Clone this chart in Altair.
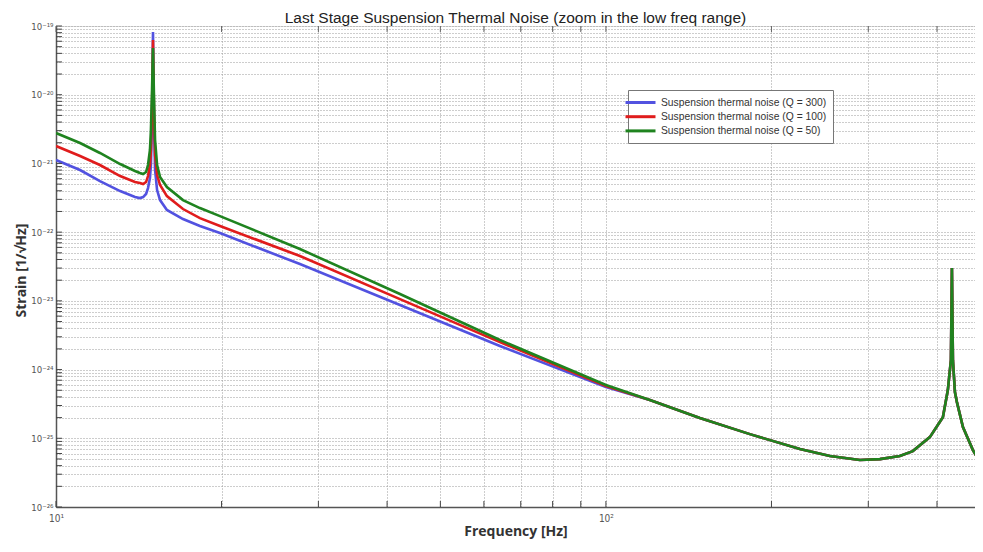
import altair as alt
import pandas as pd

series_names = [
    "Suspension thermal noise (Q = 300)",
    "Suspension thermal noise (Q = 100)",
    "Suspension thermal noise (Q = 50)",
]
series_colors = ["#5252e0", "#e01c1c", "#1f831f"]

# low-frequency part (Hz)
freq_low = [10.0, 11.06, 12.02, 13.08, 13.92, 14.21, 14.40, 14.58, 14.70, 14.82,
            14.88, 14.95, 15.01, 15.07, 15.14, 15.27, 15.46, 15.91, 17.02, 18.27,
            19.87, 27.77, 42.22, 64.16, 100.0]

strain_q300 = [1.12e-21, 8.02e-22, 5.54e-22, 3.96e-22, 3.24e-22, 3.13e-22, 3.24e-22, 3.59e-22, 4.38e-22, 6.13e-22,
               9.48e-22, 4.28e-21, 8.18e-20, 4.28e-21, 8.02e-22, 4.10e-22, 2.93e-22, 2.10e-22, 1.55e-22, 1.23e-22,
               9.70e-23, 3.43e-23, 8.69e-24, 2.20e-24, 5.56e-25]
strain_q100 = [1.79e-21, 1.28e-21, 9.48e-22, 6.55e-22, 5.36e-22, 5.18e-22, 5.01e-22, 5.36e-22, 6.55e-22, 9.48e-22,
               1.57e-21, 5.99e-21, 6.25e-20, 5.99e-21, 1.33e-21, 6.78e-22, 4.85e-22, 3.35e-22, 2.17e-22, 1.60e-22,
               1.23e-22, 4.49e-23, 1.06e-23, 2.51e-24, 5.75e-25]
strain_q50 = [2.77e-21, 1.98e-21, 1.42e-21, 9.80e-22, 7.75e-22, 7.25e-22, 7.01e-22, 7.49e-22, 9.48e-22, 1.57e-21,
              3.06e-21, 1.17e-20, 4.78e-20, 9.90e-21, 2.19e-21, 9.48e-22, 6.34e-22, 4.53e-22, 2.93e-22, 2.24e-22,
              1.71e-22, 5.68e-23, 1.26e-23, 2.69e-24, 5.95e-25]

# high-frequency part, common to all three curves
freq_high = [120.2, 148.2, 182.7, 225.3, 255.5, 289.6, 315.0, 342.4, 361.5, 388.2,
             410.0, 418.6, 424.0, 425.8, 427.6, 431.2, 434.8, 445.9, 464.9, 484.9]
strain_high = [3.60e-25, 1.97e-25, 1.15e-25, 6.97e-26, 5.51e-26, 4.82e-26, 4.98e-26, 5.51e-26, 6.51e-26, 1.04e-25,
               2.03e-25, 5.03e-25, 1.37e-24, 3.00e-23, 1.37e-24, 4.71e-25, 3.36e-25, 1.46e-25, 6.73e-26, 3.81e-26]

# axis ticks / grid
x_grid = [10, 20, 30, 40, 50, 60, 70, 80, 90, 100, 200, 300, 400]
x_label_values = [10, 100]
x_label_texts = ["10\u00b9", "10\u00b2"]
y_decades = [-26, -25, -24, -23, -22, -21, -20, -19]
y_label_texts = ["10\u207b\u00b2\u2076", "10\u207b\u00b2\u2075", "10\u207b\u00b2\u2074", "10\u207b\u00b2\u00b3",
                 "10\u207b\u00b2\u00b2", "10\u207b\u00b2\u00b9", "10\u207b\u00b2\u2070", "10\u207b\u00b9\u2079"]
y_grid = [float(f"{k}e{e}") for e in y_decades[:-1] for k in range(1, 10)] + [1e-19]
y_label_values = [float(f"1e{e}") for e in y_decades]

rows = []
for name, low in zip(series_names, [strain_q300, strain_q100, strain_q50]):
    for f, s in zip(freq_low + freq_high, low + strain_high):
        rows.append({"series": name, "freq": f, "strain": s})
df = pd.DataFrame(rows)

W, H = 919, 481
xscale = alt.Scale(type="log", domain=[10, 469], nice=False)
yscale = alt.Scale(type="log", domain=[1e-26, 1e-19], nice=False)
colscale = alt.Scale(domain=series_names, range=series_colors)

x_expr = " : ".join(f"datum.value == {v} ? '{t}'" for v, t in zip(x_label_values, x_label_texts)) + " : ''"
y_expr = " : ".join(f"datum.value == {v!r} ? '{t}'" for v, t in zip(y_label_values, y_label_texts)) + " : ''"

xaxis = alt.Axis(values=x_grid, labelExpr=x_expr, title="Frequency [Hz]", ticks=False,
                 grid=True, gridDash=[1, 2], gridColor="#9a9a9a", labelFlush=False,
                 labelFont="DejaVu Sans Condensed", labelFontSize=10, labelColor="#555", labelPadding=6,
                 titleFont="Open Sans", titleFontSize=14, titleFontWeight="bold", titleColor="#333",
                 titlePadding=1, domainColor="#555", domainWidth=1.5)
yaxis = alt.Axis(values=y_grid, labelExpr=y_expr, title="Strain [1/\u221aHz]", ticks=False,
                 grid=True, gridDash=[1, 2], gridColor="#9a9a9a",
                 labelFont="DejaVu Sans Condensed", labelFontSize=9.5, labelColor="#555", labelPadding=3,
                 titleFont="Open Sans", titleFontSize=14, titleFontWeight="bold", titleColor="#333",
                 titleX=-28, titleY=244, titleAlign="center", titleBaseline="bottom", titleAngle=-90,
                 domainColor="#555", domainWidth=1.5)

legend = alt.Legend(title=None, orient="none", legendX=572, legendY=64, fillColor="white",
                    strokeColor="#777", padding=6, symbolType="M-3,0H3", symbolSize=100,
                    symbolStrokeWidth=3, labelFont="Liberation Sans", labelFontSize=10.3,
                    labelColor="#333", rowPadding=1.2, labelOffset=14, labelLimit=400,
                    offset=0)

xt = pd.DataFrame({"v": x_grid})
yt = pd.DataFrame({"v": y_grid})

layers = []
for name in series_names:
    layers.append(
        alt.Chart(df[df.series == name]).mark_line(strokeWidth=2.6, clip=True).encode(
            x=alt.X("freq:Q", scale=xscale, axis=xaxis),
            y=alt.Y("strain:Q", scale=yscale, axis=yaxis),
            color=alt.Color("series:N", scale=colscale, legend=legend),
            order=alt.Order("freq:Q"),
        )
    )

tick_bottom = alt.Chart(xt).mark_rule(color="#444", strokeWidth=1).encode(
    x=alt.X("v:Q", scale=xscale, axis=xaxis), y=alt.value(H), y2=alt.value(H - 6))
tick_top = alt.Chart(xt).mark_rule(color="#666", strokeWidth=1).encode(
    x=alt.X("v:Q", scale=xscale, axis=xaxis), y=alt.value(0), y2=alt.value(6))
tick_left = alt.Chart(yt).mark_rule(color="#444", strokeWidth=1).encode(
    y=alt.Y("v:Q", scale=yscale, axis=yaxis), x=alt.value(0), x2=alt.value(6))

chart = alt.layer(*layers, tick_bottom, tick_top, tick_left).properties(
    width=W, height=H,
    title=alt.Title("Last Stage Suspension Thermal Noise (zoom in the low freq range)",
                    font="Liberation Sans", fontSize=15.5, fontWeight="normal", color="#222",
                    anchor="middle", offset=-17.5, baseline="alphabetic"),
    autosize=alt.AutoSizeParams(type="none"),
    padding={"left": 48, "top": 18, "right": 0, "bottom": 34},
).configure_view(stroke="#999", strokeWidth=1).configure(background="white")

chart.save("out.html", embed_options={"renderer": "svg", "actions": False})
